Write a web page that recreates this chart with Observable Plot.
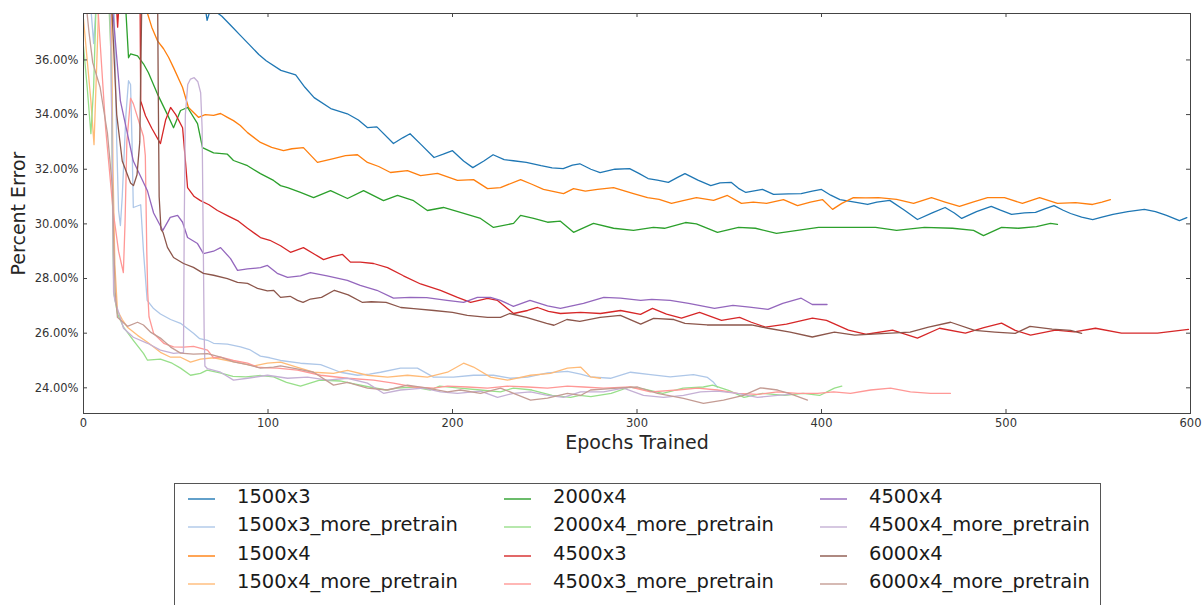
<!DOCTYPE html>
<html><head><meta charset="utf-8">
<script src="https://cdn.jsdelivr.net/npm/d3@7"></script>
<script src="https://cdn.jsdelivr.net/npm/@observablehq/plot@0.6"></script>
<style>
body{margin:0;background:#fff;font-family:"DejaVu Sans",sans-serif;}
#chart{position:relative;width:1202px;height:605px;overflow:hidden;background:#fff;}
#legend{position:absolute;left:174px;top:483px;width:927px;height:140px;border:1px solid #555;box-sizing:border-box;background:#fff;}
.item{position:absolute;display:flex;align-items:center;height:28px;font-size:19.5px;color:#1a1a1a;white-space:nowrap;}
.item svg{display:block;margin-right:22px;position:relative;top:3px;}
</style></head><body><div id="chart"></div><script>
const names = ["1500x3","1500x3_more_pretrain","1500x4","1500x4_more_pretrain","2000x4","2000x4_more_pretrain","4500x3","4500x3_more_pretrain","4500x4","4500x4_more_pretrain","6000x4","6000x4_more_pretrain"];
const colors = ["#1f77b4","#aec7e8","#ff7f0e","#ffbb78","#2ca02c","#98df8a","#d62728","#ff9896","#9467bd","#c5b0d5","#8c564b","#c49c94"];
const xTicks = [0,100,200,300,400,500,600];
const yTicks = [24,26,28,30,32,34,36];

const s1500x3 = [[0,50],[60,40],[66,37.9],[67,37.45],[69,37.9],[71,37.8],[75,37.6],[80,37.25],[85,36.9],[90,36.55],[95,36.2],[99,35.97],[107,35.62],[115,35.45],[120,35.0],[125,34.62],[134,34.22],[143,34.03],[149,33.8],[154,33.52],[159,33.55],[168,32.94],[173,33.15],[177,33.3],[183,32.9],[190,32.43],[195,32.55],[200,32.68],[206,32.3],[211,32.06],[217,32.3],[222,32.53],[228,32.35],[233,32.31],[240,32.25],[248,32.13],[254,32.05],[260,32.02],[265,32.15],[269,32.2],[275,32.0],[280,31.88],[288,32.0],[296,32.02],[301,31.85],[306,31.66],[311,31.6],[317,31.52],[322,31.7],[326,31.84],[333,31.6],[340,31.4],[345,31.5],[351,31.52],[355,31.3],[359,31.15],[368,31.26],[374,31.08],[382,31.1],[389,31.11],[395,31.2],[400,31.26],[405,31.05],[410,30.89],[418,30.8],[425,30.71],[430,30.8],[437,30.86],[445,30.5],[452,30.16],[460,30.4],[467,30.6],[472,30.4],[476,30.2],[484,30.45],[492,30.64],[497,30.5],[503,30.35],[510,30.4],[516,30.42],[521,30.55],[526,30.67],[531,30.5],[535,30.38],[541,30.25],[547,30.16],[552,30.25],[558,30.35],[566,30.45],[575,30.53],[581,30.45],[587,30.31],[594,30.12],[598,30.23]];
const s1500x3_more_pretrain = [[0,40],[4,37.9],[5.5,36.6],[7,38.2],[10,41],[16,40],[18,33],[19,30.5],[20,29.94],[21,31],[23,34],[24.4,35.24],[25.5,35.1],[26.3,33],[27,30.6],[31,30.7],[32.5,29],[34.5,27.2],[38,26.9],[41.7,26.7],[47.2,26.5],[52.6,26.36],[59.6,26.0],[63,25.8],[67.2,25.74],[70.5,25.63],[78,25.6],[85.1,25.5],[90,25.4],[95.9,25.16],[101,25.1],[106.8,25.0],[117.6,24.9],[128.5,24.85],[139.3,24.57],[148.5,24.46],[155,24.5],[161,24.57],[171.8,24.72],[181,24.72],[189.7,24.39],[200.5,24.39],[211.4,24.46],[222.2,24.46],[231.4,24.35],[240.7,24.39],[251.5,24.55],[262.3,24.6],[269.4,24.5],[274.8,24.4],[285.6,24.35],[296.5,24.57],[307.3,24.48],[318,24.4],[330.6,24.48],[338.2,24.38],[341.5,24.2],[343.6,24.02]];
const s1500x4 = [[0,50],[30,40],[34.7,37.7],[37,37.2],[40.1,36.7],[43.4,36.41],[46.1,36.1],[48.8,35.72],[53.7,34.99],[56.9,34.26],[62.3,33.9],[66,34.0],[70.5,33.97],[74.3,34.04],[78,33.9],[81.3,33.78],[85,33.6],[88.9,33.34],[95.9,32.98],[102,32.8],[108.4,32.68],[113,32.75],[119.2,32.79],[126.8,32.25],[135.5,32.39],[142,32.5],[148.5,32.53],[153.9,32.25],[160,32.1],[166.4,31.88],[175.6,31.95],[182.7,31.77],[191.9,31.85],[202.7,31.59],[211.4,31.62],[219,31.29],[226,31.33],[236.9,31.62],[243,31.45],[249.3,31.26],[260.2,31.11],[265.6,31.29],[272,31.2],[278.6,31.26],[287.3,31.33],[298.1,31.11],[305.7,30.96],[312,30.9],[318.7,30.75],[325,30.85],[332.2,30.96],[341.5,30.86],[349,31.04],[356.6,30.75],[363,30.8],[370.2,30.75],[379.4,30.89],[387,30.67],[394,30.8],[400.5,30.89],[406,30.53],[411,30.75],[417.3,30.96],[424,30.95],[430.9,30.96],[440.7,30.9],[449.9,30.75],[459.6,30.96],[467,30.8],[474.8,30.64],[482,30.8],[490,30.96],[499.2,30.96],[508.9,30.75],[518.2,30.96],[527.9,30.75],[537.7,30.78],[546.9,30.71],[552,30.8],[556.6,30.89]];
const s1500x4_more_pretrain = [[0,37.5],[2,36],[4,34.5],[5.7,32.9],[7,35.5],[8.5,38.5],[12,41],[15,38.5],[16,32],[17,28.5],[18.4,26.83],[21,26.5],[23.8,26.22],[29.3,25.92],[34.7,25.67],[41.7,25.3],[47.2,25.12],[52.6,25.12],[58,24.94],[63.4,25.05],[70.5,25.1],[78,25.0],[85.1,24.9],[92.1,24.8],[99.7,24.9],[106.8,24.94],[116,24.75],[124.7,24.57],[135.5,24.53],[143.1,24.64],[153.9,24.46],[164.8,24.39],[175.6,24.46],[186.4,24.39],[197.3,24.57],[206,24.9],[211.4,24.76],[220.6,24.39],[229.8,24.28],[242.3,24.46],[253.1,24.53],[262.3,24.72],[269.4,24.76],[274.8,24.4],[280.2,24.35]];
const s2000x4 = [[0,50],[20,40],[22.8,38],[24.4,36.08],[25.5,36.22],[29.3,36.15],[32.5,35.86],[35.2,35.53],[40.1,34.75],[45.5,34.0],[48.8,33.52],[52.6,34.15],[56.4,34.26],[61.8,33.67],[64.5,32.79],[70.5,32.6],[78,32.55],[81.3,32.32],[88.9,32.13],[95.9,31.84],[103,31.59],[106.8,31.4],[110.6,31.33],[117.6,31.15],[124.7,30.96],[133.9,31.22],[143.1,30.93],[151.8,31.22],[162.6,30.85],[170.2,31.04],[178.9,30.85],[186.4,30.49],[195.1,30.6],[204.3,30.42],[215.2,30.2],[222.2,29.87],[233.1,30.02],[236.9,30.31],[244,30.2],[251.5,30.06],[258.5,30.1],[265.6,29.69],[276.4,30.02],[287.3,29.84],[298.1,29.76],[308.9,29.87],[314.9,29.84],[326.3,30.05],[332.2,30.0],[343.6,29.69],[355,29.87],[364.2,29.84],[375.6,29.65],[387,29.76],[398.4,29.87],[413.6,29.87],[429.3,29.87],[440.7,29.76],[455.8,29.87],[471,29.84],[482.4,29.76],[487.8,29.57],[497.6,29.87],[506.8,29.84],[516.5,29.9],[524.1,30.02],[527.9,29.98]];
const s2000x4_more_pretrain = [[0,36.5],[2,35],[4,33.3],[5.5,35],[7,38.5],[12,41],[15,36],[16,29],[16.5,27.45],[18.4,26.72],[21.7,26.22],[27,25.74],[32.5,25.26],[34.7,25.01],[41.7,25.05],[48,24.9],[52.6,24.72],[58,24.46],[63.4,24.53],[67,24.65],[74,24.55],[81,24.42],[88,24.4],[96,24.45],[103,24.4],[110,24.2],[117.6,24.06],[128,24.28],[139,24.25],[146,24.15],[155,24.03],[164,23.92],[170,23.99],[179,24.03],[188,23.92],[193,24.06],[204,23.99],[215,23.92],[226,23.85],[233,23.99],[243,23.92],[254,23.72],[264,23.65],[269,23.72],[275,23.68],[286,23.8],[296,24.03],[304,23.95],[314,23.8],[325,23.99],[336,24.03],[341,24.1],[350,23.9],[358,23.65],[368,23.8],[380,23.72],[390,23.8],[399,23.72],[407,23.99],[411,24.06]];
const s4500x3 = [[0,50],[15,42],[17,39],[18.5,37.2],[20,39],[25,42],[30.5,40],[31,34.5],[33.6,33.96],[37,33.5],[41.7,32.94],[44.5,33.8],[47.2,34.26],[50,34.0],[53.7,33.52],[55,32.5],[56.4,31.33],[60,31.0],[63.4,30.85],[68,30.7],[72.6,30.49],[78,30.3],[84,30.1],[88.9,29.84],[95.9,29.5],[101,29.4],[106.8,29.2],[112.2,28.96],[119.2,29.13],[125,28.9],[130.1,28.69],[135,28.8],[140.4,28.88],[144.7,28.6],[150,28.6],[157.2,28.55],[164.8,28.4],[173.4,28.1],[182.7,27.8],[193.5,27.57],[202.7,27.31],[209.8,27.13],[219,27.27],[224.4,27.2],[233.1,26.72],[240.7,26.83],[246.1,26.94],[252,26.8],[258.5,26.72],[269.4,26.76],[280.2,26.72],[291.1,26.83],[301.9,26.69],[308.4,26.91],[316,26.7],[324.1,26.55],[333.9,26.76],[345.8,26.47],[355.6,26.58],[362,26.4],[369.6,26.22],[381,26.33],[395.1,26.55],[402.7,26.47],[414.6,26.11],[424.4,25.96],[438.5,26.11],[452,25.82],[464,26.18],[478,26.0],[488,26.2],[497.6,26.37],[505,26.1],[513.3,25.93],[526.8,26.11],[537,26.05],[548.5,26.18],[562.6,26.0],[582.1,26.0],[598.9,26.14]];
const s4500x3_more_pretrain = [[0,50],[7,39],[8,37.7],[12,33.5],[16,30.5],[19,29],[21.6,28.22],[22.5,30],[23.5,33],[25.5,34.6],[27,34.4],[29.3,33.9],[32.5,33.2],[33.5,32.5],[34.3,29],[34.8,27.5],[35.5,26.6],[38,25.99],[43.5,25.63],[48.8,25.5],[54.2,25.49],[59.6,25.52],[67.2,25.38],[70.5,25.1],[74.3,25.12],[81.3,25.0],[88.9,24.9],[94.3,24.76],[100,24.73],[105.1,24.72],[116,24.65],[128.5,24.46],[143.1,24.35],[157.2,24.28],[168,24.17],[178.9,24.03],[189.7,23.99],[197.3,24.06],[208.1,24.03],[219,23.99],[229.8,24.06],[240.7,24.03],[251.5,23.99],[262.3,24.06],[271,24.03],[281.8,23.99],[296.5,24.03],[307.3,23.85],[321.9,23.92],[332.8,23.99],[343.6,23.92],[354.5,23.8],[365.3,23.76],[376.2,23.85],[387,23.8],[397.8,23.8],[406.5,23.85],[415.7,23.8],[426.6,23.92],[437.4,23.99],[448.2,23.85],[459.1,23.8],[469.9,23.8]];
const s4500x4 = [[0,50],[14,40],[16,37.7],[20,34.5],[27,32.3],[34.7,31.2],[38,30.4],[43,29.76],[47,30.24],[51,30.31],[53.7,30.06],[56.4,29.5],[61.8,29.28],[65,28.91],[70.5,29.0],[74.3,29.13],[79.7,28.73],[83.5,28.3],[88.9,28.35],[95.9,28.4],[99.7,28.48],[105,28.19],[110.6,28.04],[117.6,28.1],[123,28.22],[132,28.1],[143,27.93],[150,27.75],[159,27.57],[168,27.28],[177,27.31],[186,27.3],[197,27.2],[206,27.13],[213.5,27.31],[220.6,27.31],[226,27.2],[233,26.98],[242,27.2],[251.5,27.0],[258.5,26.91],[271,27.09],[282,27.31],[291,27.28],[302,27.2],[308,27.24],[318,27.2],[328,27.09],[342,26.91],[352,27.02],[361,26.95],[371,26.87],[379,27.09],[389,27.28],[395,27.05],[403,27.05]];
const s4500x4_more_pretrain = [[0,45],[14,40],[15.5,33],[16.3,27.5],[17,27.2],[21.7,26.18],[27,25.85],[34.7,25.63],[41.7,25.38],[48.8,25.26],[54.2,25.3],[54.6,30],[55.2,34],[56.5,35.1],[58,35.3],[60,35.35],[62,35.2],[63.5,34.8],[64.3,33.5],[64.8,30],[65.4,26],[65.8,24.8],[67.2,24.7],[74.3,24.57],[81.3,24.28],[88.9,24.35],[99.7,24.46],[110.6,24.35],[121.4,24.39],[132.2,24.28],[143.1,24.35],[153.9,24.17],[162.6,23.8],[171.8,23.92],[184.3,23.99],[193.5,23.85],[202.7,23.8],[215.2,23.88],[224.4,23.65],[233.1,23.8],[242.3,23.85],[251.5,23.72],[260.2,23.65],[269.4,23.85],[281.8,23.85],[292.7,23.99],[303.5,23.72],[314.4,23.65],[325.2,23.72],[334.4,23.85],[343.6,23.88],[354.5,23.8],[365.3,23.65],[376.2,23.72],[383.2,23.76]];
const s6000x4 = [[0,50],[14,40],[15.5,37.7],[18,34],[21,32.3],[25.5,31.5],[27.1,31.4],[29,31.8],[30.5,33],[31.5,37.7],[32,40],[38,42],[40,40],[40.5,35],[41,31],[42,29.8],[43.1,29.69],[45.5,29.14],[48.8,28.77],[54.2,28.55],[59.6,28.41],[65,28.19],[70.5,28.12],[78,28.0],[83.5,27.86],[88.9,27.82],[94.3,27.64],[99.7,27.55],[103,27.57],[106.8,27.31],[112,27.35],[116,27.2],[119,27.13],[123,27.25],[129,27.31],[136,27.57],[143.5,27.4],[151,27.13],[156,27.15],[164,27.13],[172,26.94],[179,26.9],[190,26.83],[200,26.76],[208,26.65],[219,26.58],[226,26.58],[231,26.72],[240,26.58],[251,26.36],[255,26.29],[262,26.5],[269,26.43],[280,26.58],[291,26.65],[302,26.33],[309,26.54],[320,26.5],[326,26.36],[338,26.3],[352,26.3],[362,26.3],[371,26.18],[383,26.04],[395,25.86],[407,26.04],[418,25.93],[435,25.99],[448,26.04],[458,26.22],[470,26.4],[483,26.1],[494,26.04],[505,25.99],[513,26.25],[525,26.15],[535,26.1],[541,25.99]];
const s6000x4_more_pretrain = [[0,39],[3,37],[5,35.9],[9,35.0],[13,33.3],[15.7,31.3],[16.5,29],[17.2,27.5],[18.4,26.58],[23.8,26.25],[29.3,26.4],[32.5,26.3],[36.3,26.04],[41.7,25.82],[47.2,25.49],[52.6,25.27],[59.6,25.23],[67.2,25.25],[74.3,25.12],[81.3,24.95],[88.9,24.85],[95.9,24.72],[103,24.76],[106.8,24.8],[115,24.7],[124.7,24.57],[135.5,24.1],[143.1,24.2],[153.9,23.99],[164.8,23.92],[175.6,24.1],[186.4,23.99],[197.3,23.85],[204.3,23.92],[215.2,23.8],[226,23.99],[233.1,23.8],[242.3,23.55],[251.5,23.62],[262.3,23.8],[269.4,23.72],[274.8,23.92],[289.4,23.99],[300.3,24.03],[311.1,23.8],[325.2,23.61],[336,23.43],[346.9,23.55],[357.7,23.72],[366.9,24.0],[376.2,23.92],[383.2,23.78],[392.4,23.55]];

const series = [s1500x3,s1500x3_more_pretrain,s1500x4,s1500x4_more_pretrain,s2000x4,s2000x4_more_pretrain,s4500x3,s4500x3_more_pretrain,s4500x4,s4500x4_more_pretrain,s6000x4,s6000x4_more_pretrain];
const rows = series.flatMap((s,i)=>s.map(([e,v])=>({series:names[i],epoch:e,value:v})));

const W = 1202, H = 460, mL = 83, mR = 12, mT = 13, mB = 47;
const frameW = W - mL - mR, frameH = H - mT - mB, tick = 4;
const ink = "#262626", edge = "#444";

const plot = Plot.plot({
  width: W, height: H, marginLeft: mL, marginRight: mR, marginTop: mT, marginBottom: mB,
  style: {fontFamily: "DejaVu Sans", background: "#fff", color: ink},
  x: {domain: [0, 600]},
  y: {domain: [23.06, 37.70]},
  color: {domain: names, range: colors},
  marks: [
    Plot.line(rows, {x: "epoch", y: "value", z: "series", stroke: "series", strokeWidth: 1.3, clip: true}),
    Plot.frame({stroke: edge, strokeWidth: 1}),
    Plot.tickX(xTicks, {x: d => d, insetTop: frameH - tick, stroke: edge}),
    Plot.tickX(xTicks, {x: d => d, insetBottom: frameH - tick, stroke: edge}),
    Plot.tickY(yTicks, {y: d => d, insetRight: frameW - tick, stroke: edge}),
    Plot.tickY(yTicks, {y: d => d, insetLeft: frameW - tick, stroke: edge}),
    Plot.axisX({ticks: xTicks, tickSize: 0, tickPadding: 5, fontSize: 11.5, label: null, fill: "#333"}),
    Plot.axisY({ticks: yTicks, tickSize: 0, tickPadding: 5, fontSize: 11.5, label: null, fill: "#333", tickFormat: d => d.toFixed(2) + "%"}),
    Plot.text(["Epochs Trained"], {text: d => d, frameAnchor: "bottom", lineAnchor: "middle", textAnchor: "middle", dy: 29, fontSize: 19, fill: ink}),
    Plot.text(["Percent Error"], {text: d => d, frameAnchor: "left", lineAnchor: "middle", textAnchor: "middle", dx: -65, rotate: -90, fontSize: 19, fill: ink})
  ]
});

const chart = document.getElementById("chart");
chart.appendChild(plot);

const svgNS = "http://www.w3.org/2000/svg";
const legend = document.createElement("div");
legend.id = "legend";
names.forEach((n, i) => {
  const col = Math.floor(i / 4), row = i % 4;
  const item = document.createElement("div");
  item.className = "item";
  item.style.left = (13 + col * 316) + "px";
  item.style.top = Math.round(-2 + row * 28.4) + "px";
  const s = document.createElementNS(svgNS, "svg");
  s.setAttribute("width", 27); s.setAttribute("height", 6);
  const ln = document.createElementNS(svgNS, "line");
  ln.setAttribute("x1", 0); ln.setAttribute("x2", 27);
  ln.setAttribute("y1", 3); ln.setAttribute("y2", 3);
  ln.setAttribute("stroke", colors[i]); ln.setAttribute("stroke-width", 1.4);
  s.appendChild(ln);
  const t = document.createElement("span");
  t.textContent = n;
  item.appendChild(s); item.appendChild(t);
  legend.appendChild(item);
});
chart.appendChild(legend);
</script></body></html>
